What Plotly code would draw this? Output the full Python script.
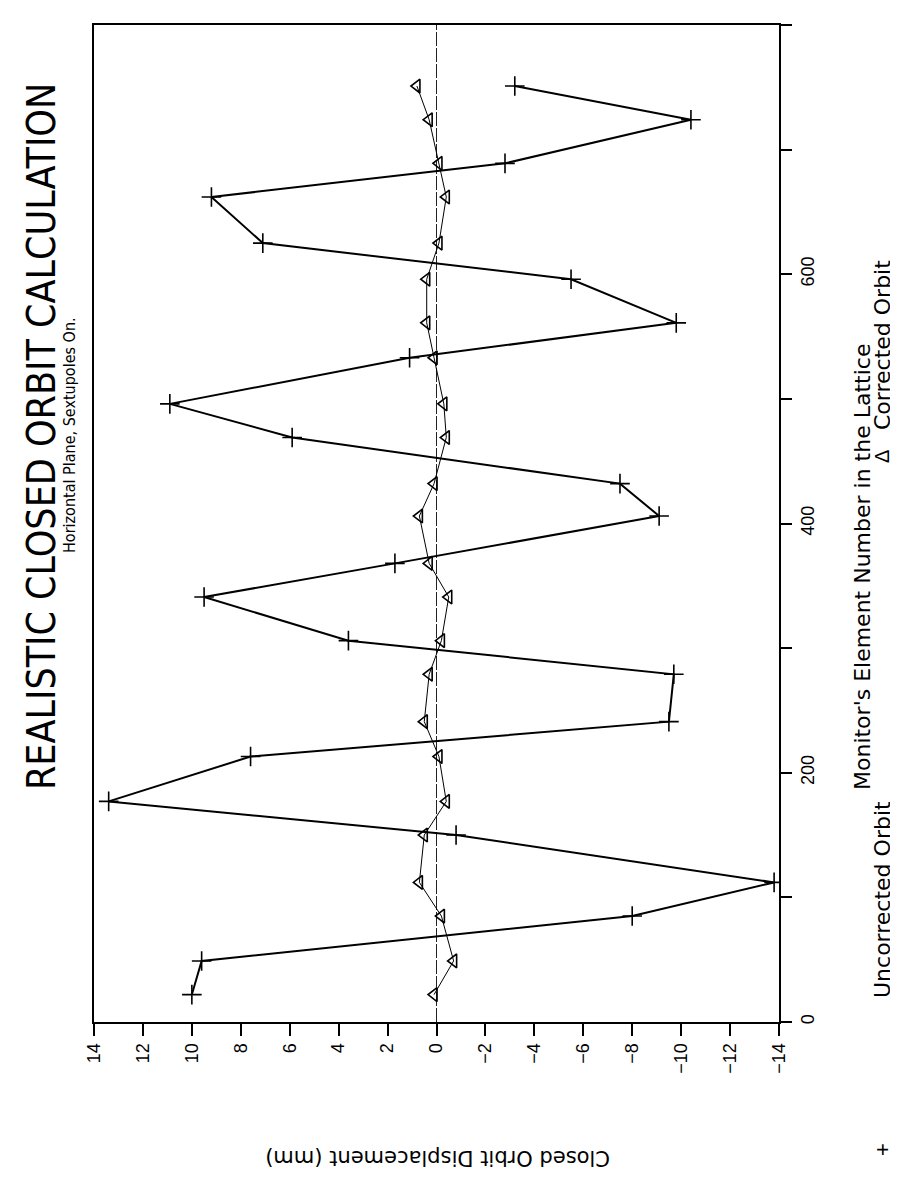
import plotly.graph_objects as go

# Monitor element numbers (shared by both series)
elements = [22, 49, 85, 112, 150, 177, 213, 241, 279, 306, 341, 368,
            406, 432, 469, 496, 533, 561, 596, 625, 662, 689, 724, 751]
# Closed orbit displacement (mm)
uncorrected = [10.0, 9.6, -8.0, -13.8, -0.8, 13.4, 7.6, -9.5, -9.7, 3.6, 9.5, 1.7,
               -9.1, -7.5, 5.9, 10.9, 1.1, -9.8, -5.5, 7.1, 9.2, -2.8, -10.4, -3.2]
corrected = [0.1, -0.7, -0.2, 0.7, 0.5, -0.4, -0.1, 0.5, 0.3, -0.2, -0.5, 0.3,
             0.7, 0.1, -0.4, -0.3, 0.1, 0.4, 0.4, -0.1, -0.4, -0.1, 0.3, 0.8]

disp_ticks = list(range(-14, 15, 2))
elem_ticks = list(range(0, 801, 100))
elem_ticktext = [str(v) if v % 200 == 0 else "" for v in elem_ticks]

FONT = "Liberation Sans, Arial, sans-serif"
LABEL = "DejaVu Sans, sans-serif"
NARROW = "Liberation Sans Narrow, Arial Narrow, DejaVu Sans Condensed, sans-serif"

fig = go.Figure()
fig.add_trace(go.Scatter(
    x=uncorrected, y=elements, mode="lines+markers", name="Uncorrected Orbit",
    line=dict(color="black", width=2),
    marker=dict(symbol="cross-thin", size=14, line=dict(color="black", width=1.6)),
    showlegend=False))
fig.add_trace(go.Scatter(
    x=corrected, y=elements, mode="lines+markers", name="Corrected Orbit",
    line=dict(color="black", width=1),
    marker=dict(symbol="triangle-left-open", size=12, color="black",
                line=dict(color="black", width=1.6)),
    showlegend=False))

# zero-displacement reference line (thin, broken)
fig.add_shape(type="line", xref="x", yref="paper", x0=0, x1=0, y0=0, y1=1,
              line=dict(color="#222", width=1, dash="14px,2px"), layer="below")

fig.update_xaxes(range=[14, -14], tickvals=disp_ticks, tickangle=-90,
                 ticks="outside", ticklen=12, tickwidth=1.5, tickcolor="black",
                 showline=True, linecolor="black", linewidth=2, mirror=True,
                 showgrid=False, zeroline=False,
                 tickfont=dict(family=FONT, size=18, color="black"))
fig.update_yaxes(range=[0, 800], side="right", tickvals=elem_ticks,
                 ticktext=elem_ticktext, tickangle=-90,
                 ticks="outside", ticklen=11, tickwidth=1.5, tickcolor="black",
                 showline=True, linecolor="black", linewidth=2, mirror=True,
                 showgrid=False, zeroline=False,
                 tickfont=dict(family=FONT, size=18, color="black"))

# page body has an 8px margin: figure placed at (8, 8)
OFF = 8
W, H = 898 - OFF, 1184 - OFF
PLOT_L, PLOT_R, PLOT_T, PLOT_B = 94, 779, 25, 1022   # page pixel frame
L = PLOT_L - OFF
T = PLOT_T - OFF
R = W - (PLOT_R - OFF)
B = H - (PLOT_B - OFF)
pw, ph = PLOT_R - PLOT_L, PLOT_B - PLOT_T

def px(x):
    return (x - PLOT_L) / pw

def py(y):
    return (PLOT_B - y) / ph

annots = [
    dict(text="REALISTIC CLOSED ORBIT CALCULATION", x=px(42), y=py(437),
         font=dict(family=NARROW, size=39), textangle=-90),
    dict(text="Horizontal Plane, Sextupoles On.", x=px(69), y=py(435),
         font=dict(family=NARROW, size=16), textangle=-90),
    dict(text="Monitor's Element Number in the Lattice", x=px(862), y=py(567),
         font=dict(family=LABEL, size=22), textangle=-90),
    dict(text="+", x=px(882), y=py(1150), font=dict(family=FONT, size=22), textangle=-90),
    dict(text="Uncorrected Orbit", x=px(882), y=py(900),
         font=dict(family=LABEL, size=22), textangle=-90),
    dict(text="Δ", x=px(882), y=py(457), font=dict(family=FONT, size=20), textangle=-90),
    dict(text="Corrected Orbit", x=px(882), y=py(345),
         font=dict(family=LABEL, size=22), textangle=-90),
    dict(text="Closed Orbit Displacement (mm)", x=px(438), y=py(1158),
         font=dict(family=LABEL, size=21), textangle=180),
]
for a in annots:
    a.update(xref="paper", yref="paper", showarrow=False,
             xanchor="center", yanchor="middle")
    a["font"]["color"] = "black"

fig.update_layout(width=W, height=H, margin=dict(l=L, r=R, t=T, b=B),
                  paper_bgcolor="white", plot_bgcolor="white",
                  annotations=annots)

fig.write_html("out.html")
